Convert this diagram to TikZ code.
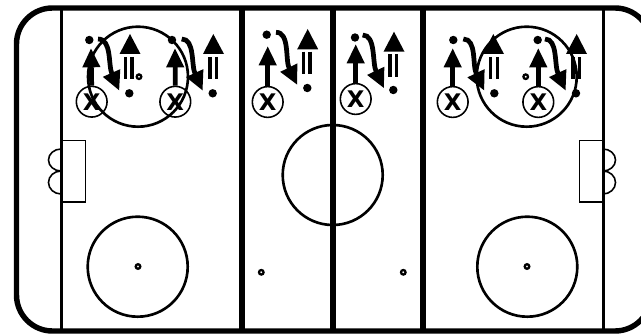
\documentclass[tikz,border=0pt]{standalone}
\usepackage{fontspec}
\setmainfont{DejaVu Sans}
\usetikzlibrary{arrows.meta}
\tikzset{
  boardline/.style={line width=3.1pt},
  blueline/.style={line width=3pt},
  centerline/.style={line width=3.5pt},
  goalline/.style={line width=1.6pt},
  ringline/.style={line width=1.5pt},
  creaseline/.style={line width=0.7pt},
  bumpline/.style={line width=0.9pt},
  spotmark/.style={circle,draw,line width=1.3pt,fill=white,minimum size=2.6pt,inner sep=0pt},
  puck/.style={circle,fill=black,minimum size=4.8pt,inner sep=0pt},
  skater/.style={circle,draw,line width=0.9pt,minimum size=17.5pt,inner sep=0pt,font=\bfseries\fontsize{13}{13}\selectfont},
  skate/.style={line width=2.7pt,-{Triangle[length=11pt,width=9.5pt]}},
  glide/.style={line width=2.7pt,-{Triangle[length=11pt,width=10pt]}},
  bar/.style={line width=1.8pt}
}
\begin{document}
\begin{tikzpicture}[x=0.02cm,y=-0.02cm]
\useasboundingbox (0,0) rectangle (641,334);
\clip (0,0) rectangle (641,334);
\fill[white] (0,0) rectangle (641,334);
\draw[boardline,rounded corners=0.72cm] (16.5,8) rectangle (651,331);
\draw[goalline] (61.5,8) -- (61.5,331);
\draw[goalline] (603.5,8) -- (603.5,331);
\draw[blueline] (242,8) -- (242,331);
\draw[blueline] (423,8) -- (423,331);
\draw[centerline] (333,8) -- (333,331);
\draw[creaseline] (61,140.5) rectangle (85.5,202);
\draw[creaseline] (603,140.5) rectangle (579.5,202);
\draw[bumpline] (61,149) arc[start angle=270,end angle=90,x radius=12.5,y radius=11];
\draw[bumpline] (61,171) arc[start angle=270,end angle=90,x radius=12.5,y radius=11.5];
\draw[bumpline] (603,149) arc[start angle=-90,end angle=90,x radius=12.5,y radius=11];
\draw[bumpline] (603,171) arc[start angle=-90,end angle=90,x radius=12.5,y radius=11.5];
\node[skater] (xA) at (91.7,101.7) {X};
\node[puck] (startA) at (89.3,40) {};
\draw[skate] (xA.north) -- (91,48);
\draw[glide] (98,39) .. controls (112,39) and (108,65) .. (119.3,90.7);
\fill (130,34) -- (140.5,54) -- (119.5,54) -- cycle;
\draw[bar] (125.5,57) -- (125.5,79);
\draw[bar] (132,57) -- (132,79);
\node[puck] (endA) at (129.3,93.3) {};
\node[skater] (xB) at (175.3,101.7) {X};
\node[puck] (startB) at (172,40) {};
\draw[skate] (xB.north) -- (175,48);
\draw[glide] (181.7,39) .. controls (195,39) and (191,65) .. (202.7,90.7);
\fill (213.3,34) -- (224,54) -- (203,54) -- cycle;
\draw[bar] (210,57) -- (210,79);
\draw[bar] (216.7,57) -- (216.7,79);
\node[puck] (endB) at (212.7,93.3) {};
\node[skater] (xC) at (267.7,102) {X};
\node[puck] (startC) at (266.7,34.7) {};
\draw[skate] (xC.north) -- (267.7,46);
\draw[glide] (276,32.3) .. controls (290,32.3) and (285,60) .. (297.3,85);
\fill (307.7,29) -- (318.2,49.3) -- (297.2,49.3) -- cycle;
\draw[bar] (303.3,51.7) -- (303.3,74);
\draw[bar] (310,51.7) -- (310,74);
\node[puck] (endC) at (307.3,88) {};
\node[skater] (xD) at (355.7,99) {X};
\node[puck] (startD) at (355,37.5) {};
\draw[skate] (xD.north) -- (355.7,44);
\draw[glide] (362.7,35) .. controls (376,35) and (372,63) .. (384,88.3);
\fill (394,31.7) -- (404.5,51.7) -- (383.5,51.7) -- cycle;
\draw[bar] (390,54.3) -- (390,76.7);
\draw[bar] (396.7,54.3) -- (396.7,76.7);
\node[puck] (endD) at (393.3,90) {};
\node[skater] (xE) at (452.7,102) {X};
\node[puck] (startE) at (453.3,40) {};
\draw[skate] (xE.north) -- (452.7,48);
\draw[glide] (463.3,39) .. controls (477,39) and (472,65) .. (484.3,90.7);
\fill (493.3,34) -- (504,54) -- (483,54) -- cycle;
\draw[bar] (490.7,57) -- (490.7,79);
\draw[bar] (497.3,57) -- (497.3,79);
\node[puck] (endE) at (494.3,93.3) {};
\node[skater] (xF) at (538.3,102) {X};
\node[puck] (startF) at (537.7,40) {};
\draw[skate] (xF.north) -- (538.3,48);
\draw[glide] (545,39) .. controls (558,39) and (554,65) .. (565.7,90.7);
\fill (576.7,34) -- (587,54) -- (566,54) -- cycle;
\draw[bar] (573,57) -- (573,79);
\draw[bar] (579.5,57) -- (579.5,79);
\node[puck] (endF) at (576,93.3) {};
\draw[ringline] (138,76.7) circle[radius=50];
\draw[ringline] (526.7,76.7) circle[radius=50];
\draw[ringline] (137.7,266.7) circle[radius=50];
\draw[ringline] (527.3,266.7) circle[radius=50];
\draw[ringline] (332.7,175) circle[radius=50];
\node[spotmark] (spotA) at (139,76.7) {};
\node[spotmark] (spotB) at (525.7,76.7) {};
\node[spotmark] (spotC) at (138,266.5) {};
\node[spotmark] (spotD) at (527,266.5) {};
\node[spotmark] (spotE) at (261.3,272.3) {};
\node[spotmark] (spotF) at (403.3,272.3) {};
\end{tikzpicture}
\end{document}
